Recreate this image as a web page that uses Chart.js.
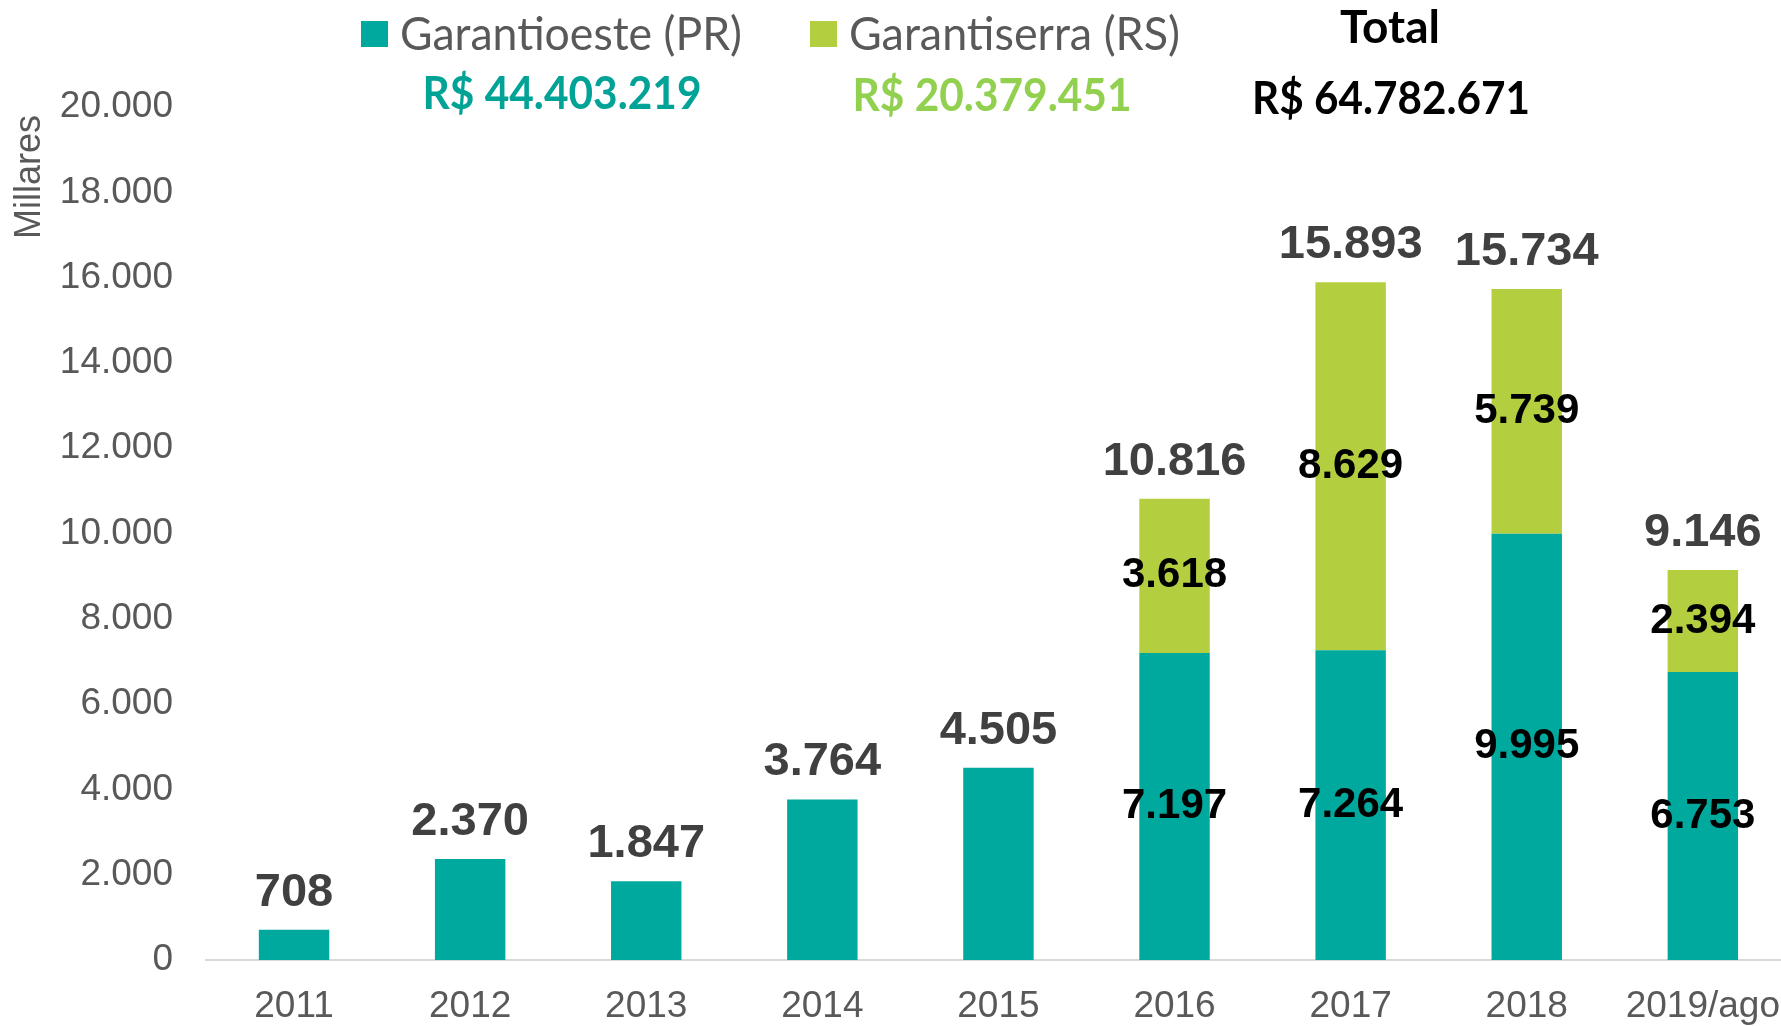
<!DOCTYPE html>
<html>
<head>
<meta charset="utf-8">
<script src="https://cdn.jsdelivr.net/npm/chart.js@4/dist/chart.umd.min.js"></script>
<style>
html, body { margin: 0; padding: 0; background: #fff; overflow: hidden; }
#wrap { width: 1797px; height: 1026px; }
</style>
</head>
<body>
<div id="wrap"><canvas id="grafico" width="1797" height="1026"></canvas></div>
<script>
// dados (milhares de R$)
var anos = ['2011', '2012', '2013', '2014', '2015', '2016', '2017', '2018', '2019/ago'];
var garantioeste = [708, 2370, 1847, 3764, 4505, 7197, 7264, 9995, 6753];
var garantiserra = [null, null, null, null, null, 3618, 8629, 5739, 2394];
var totais = [708, 2370, 1847, 3764, 4505, 10816, 15893, 15734, 9146];

// textos do resumo no topo
var resumoValores = ['R$ 44.403.219', 'R$ 20.379.451', 'R$ 64.782.671'];
var resumoTotal = 'Total';
var tituloEixo = 'Millares';

var corPR = '#00A99D';
var corRS = '#B3CF40';

function fmt(n) {
  return String(n).replace(/\B(?=(\d{3})+(?!\d))/g, '.');
}

var FONTE = '"Liberation Sans", Arial, sans-serif';
var FONTE_LEG = 'Lato, "Open Sans", sans-serif';

// rótulos das barras + legenda desenhada à mão
var rotulos = {
  id: 'rotulos',
  afterDatasetsDraw: function(chart) {
    var ctx = chart.ctx;
    var m0 = chart.getDatasetMeta(0), m1 = chart.getDatasetMeta(1);
    ctx.save();
    ctx.textAlign = 'center';
    ctx.textBaseline = 'middle';
    anos.forEach(function(a, i) {
      var b0 = m0.data[i];
      var topo = b0.y;
      if (garantiserra[i] != null) {
        var b1 = m1.data[i];
        ctx.font = 'bold 42px ' + FONTE;
        ctx.fillStyle = '#000';
        ctx.fillText(fmt(garantioeste[i]), b0.x, (b0.y + b0.base) / 2);
        ctx.fillText(fmt(garantiserra[i]), b1.x, (b1.y + b1.base) / 2);
        topo = b1.y;
      }
      ctx.font = 'bold 47px ' + FONTE;
      ctx.fillStyle = '#404040';
      ctx.fillText(fmt(totais[i]), b0.x, topo - 37);
    });
    ctx.restore();
  },
  afterDraw: function(chart) {
    var ctx = chart.ctx;
    var ds = chart.data.datasets;
    ctx.save();
    ctx.textBaseline = 'middle';

    // legenda
    var legX = [361, 810];
    var legW = [342, 331];
    ds.forEach(function(d, k) {
      ctx.fillStyle = d.backgroundColor;
      ctx.fillRect(legX[k], 21, 27, 26);
      ctx.fillStyle = '#595959';
      ctx.textAlign = 'left';
      ctx.font = '47px ' + FONTE_LEG;
      ctx.fillText(d.label, legX[k] + 39, 35, legW[k]);
    });

    // valores acumulados
    ctx.textAlign = 'center';
    ctx.font = 'bold 46px ' + FONTE_LEG;
    ctx.fillStyle = '#00A396';
    ctx.fillText(resumoValores[0], 562, 94, 279);
    ctx.fillStyle = '#92D050';
    ctx.fillText(resumoValores[1], 992, 96, 279);
    ctx.fillStyle = '#000';
    ctx.fillText(resumoValores[2], 1391, 99, 278);
    ctx.fillText(resumoTotal, 1390, 28, 100);

    // título do eixo y
    ctx.translate(30, 177);
    ctx.rotate(-Math.PI / 2);
    ctx.font = '36px ' + FONTE;
    ctx.fillStyle = '#595959';
    ctx.fillText(tituloEixo, 0, 0);
    ctx.restore();
  }
};

new Chart(document.getElementById('grafico').getContext('2d'), {
  type: 'bar',
  data: {
    labels: anos,
    datasets: [{
      label: 'Garantioeste (PR)',
      data: garantioeste,
      backgroundColor: corPR,
      barPercentage: 0.4,
      categoryPercentage: 1
    }, {
      label: 'Garantiserra (RS)',
      data: garantiserra,
      backgroundColor: corRS,
      barPercentage: 0.4,
      categoryPercentage: 1
    }]
  },
  options: {
    responsive: false,
    animation: false,
    layout: { padding: { top: 107, right: 0, left: 0, bottom: 0 } },
    plugins: {
      legend: { display: false },
      tooltip: { enabled: false }
    },
    scales: {
      x: {
        stacked: true,
        grid: { display: false },
        border: { color: '#d9d9d9', width: 2 },
        ticks: {
          color: '#595959',
          font: { family: FONTE, size: 37 },
          padding: 17,
          autoSkip: false,
          maxRotation: 0
        },
        afterFit: function(s) { s.height = 66; }
      },
      y: {
        stacked: true,
        min: 0,
        max: 20000,
        grid: { display: false },
        border: { display: false },
        ticks: {
          stepSize: 2000,
          color: '#595959',
          font: { family: FONTE, size: 37 },
          padding: 25,
          callback: function(v) { return fmt(v); }
        },
        afterFit: function(s) { s.width = 206; }
      }
    }
  },
  plugins: [rotulos]
});
</script>
</body>
</html>
